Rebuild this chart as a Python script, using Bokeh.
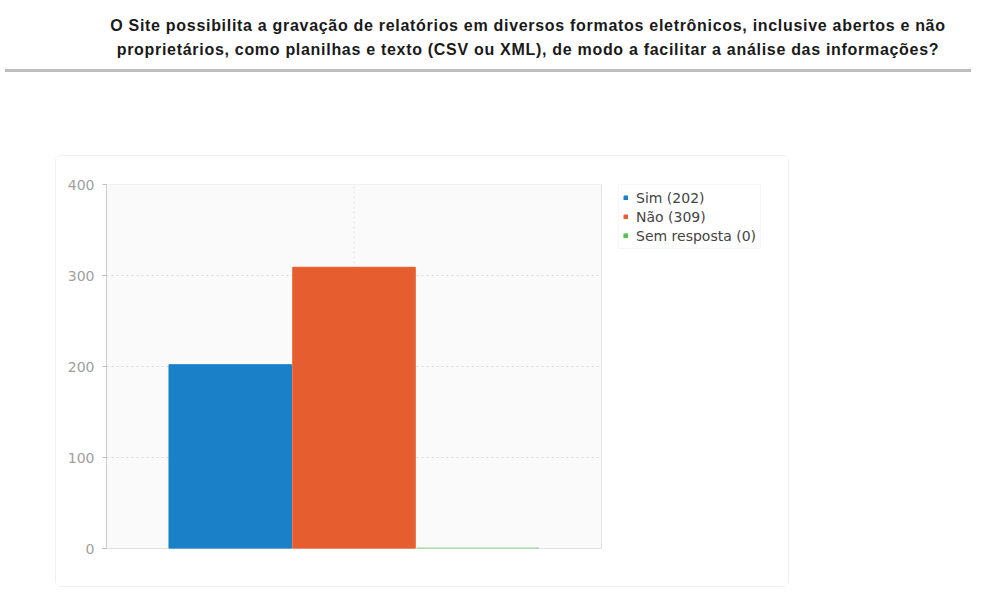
from bokeh.plotting import figure
from bokeh.models import Div, Legend, LegendItem, FixedTicker, Range1d
from bokeh.layouts import column
from bokeh.embed import file_html
from bokeh.resources import INLINE

title_lines = [
    "O Site possibilita a gravação de relatórios em diversos formatos eletrônicos, inclusive abertos e não",
    "proprietários, como planilhas e texto (CSV ou XML), de modo a facilitar a análise das informações?",
]
categories = ["Sim", "Não", "Sem resposta"]
values = [202, 309, 0]
colors = ["#1a80c8", "#e65d2f", "#52c452"]
y_ticks = [0, 100, 200, 300, 400]

# layout constants (pixels)
FIG_W, FIG_H = 734, 432
BORDER_L, BORDER_R = 50, 10
PLOT_AREA_W = 495  # width of the shaded plot area inside the frame
frame_w = FIG_W - BORDER_L - BORDER_R
x_lo, x_hi = 0, len(categories) + 1
y_lo, y_hi = y_ticks[0], y_ticks[-1]

header = Div(
    text="<br>".join(title_lines),
    width=966, height=67,
    styles={
        "font-family": "'Liberation Sans', Arial, sans-serif",
        "font-size": "16px",
        "font-weight": "bold",
        "letter-spacing": "0.7px",
        "line-height": "24px",
        "color": "#1a1a1a",
        "text-align": "center",
        "padding-top": "9px",
        "padding-left": "80px",
        "box-sizing": "border-box",
        "width": "966px",
        "height": "67px",
        "border-bottom": "3px solid #bdbdbd",
    },
)

p = figure(width=FIG_W, height=FIG_H, output_backend="svg", toolbar_location=None,
           x_range=Range1d(x_lo, x_hi * frame_w / PLOT_AREA_W), y_range=Range1d(y_lo, y_hi),
           min_border_left=BORDER_L, min_border_right=BORDER_R,
           min_border_top=28, min_border_bottom=40,
           styles={"border": "1px solid #f0f0f0", "border-radius": "6px"})
p.margin = (78, 0, 0, 55)
p.background_fill_color = "#ffffff"
p.border_fill_color = "#ffffff"
p.outline_line_color = None
p.xaxis.visible = False
p.xgrid.visible = False
p.ygrid.visible = False

# shaded plot area with light outline
p.quad(left=[x_lo], right=[x_hi], bottom=[y_lo], top=[y_hi],
       fill_color="#fafafa", line_color="#e2e2e2", line_width=1)
# dotted grid lines
inner = y_ticks[1:-1]
p.segment(x0=[x_lo] * len(inner), x1=[x_hi] * len(inner), y0=inner, y1=inner,
          line_color="#d8d8d8", line_dash="2 3", line_width=1)
p.segment(x0=[2], x1=[2], y0=[y_lo], y1=[y_hi],
          line_color="#e0e0e0", line_dash="2 3", line_width=1)
# baseline
p.segment(x0=[x_lo], x1=[x_hi], y0=[y_lo], y1=[y_lo], line_color="#cfcfcf", line_width=1)

renderers = []
for i, (c, v, col) in enumerate(zip(categories, values, colors)):
    r = p.vbar(x=[i + 1], top=[v], width=0.99, fill_color=col,
               line_color=col, line_width=1 if v > 0 else 2,
               line_alpha=1.0 if v > 0 else 0.6)
    renderers.append(r)

yaxis = p.yaxis[0]
yaxis.ticker = FixedTicker(ticks=y_ticks)
yaxis.axis_line_color = "#cccccc"
yaxis.major_tick_line_color = "#bbbbbb"
yaxis.major_tick_in = 0
yaxis.major_tick_out = 4
yaxis.minor_tick_line_color = None
yaxis.major_label_text_color = "#a0a0a0"
yaxis.major_label_text_font = "DejaVu Sans"
yaxis.major_label_text_font_size = "14px"
yaxis.major_label_standoff = 8

items = []
for c, v, r in zip(categories, values, renderers):
    items.append(LegendItem(label=f"{c} ({v})", renderers=[r]))
legend = Legend(items=items, location=(PLOT_AREA_W + 17, 299),
                label_text_font="DejaVu Sans", label_text_font_size="14px",
                label_text_color="#444444", glyph_width=5, glyph_height=5,
                label_height=17, label_standoff=8, spacing=2, padding=4, margin=0,
                border_line_color="#eeeeee", background_fill_color="#ffffff")
p.add_layout(legend, "center")

layout = column(header, p, spacing=0)
open("out.html", "w").write(file_html(layout, INLINE))
